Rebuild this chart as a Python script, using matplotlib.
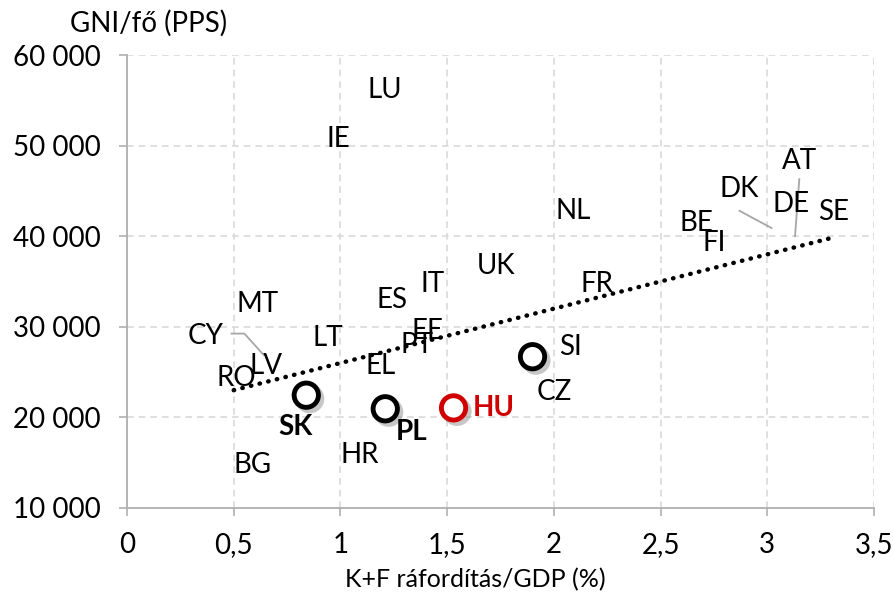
import matplotlib
matplotlib.use("Agg")
import matplotlib.pyplot as plt
from matplotlib.ticker import FuncFormatter
import matplotlib.patheffects as pe

plt.rcParams['font.family'] = ['Lato', 'DejaVu Sans']

# Countries shown only as labels (label position in data units)
lbl_names = ["LU", "IE", "NL", "DK", "AT", "DE", "SE", "BE", "FI", "UK", "IT", "FR",
             "ES", "MT", "CY", "LT", "EE", "PT", "LV", "RO", "EL", "SI", "CZ", "HR", "BG"]
lbl_x = [1.21, 0.99, 2.09, 2.87, 3.15, 3.11, 3.31, 2.67, 2.75, 1.73, 1.43, 2.20,
         1.24, 0.61, 0.37, 0.94, 1.41, 1.36, 0.65, 0.51, 1.19, 2.08, 2.00, 1.09, 0.59]
lbl_y = [56100, 50700, 42800, 45200, 48300, 43600, 42700, 41500, 39300, 36700, 34700, 34700,
         33000, 32500, 29000, 28800, 29500, 28000, 25700, 24300, 25700, 27800, 22800, 15900, 14800]

# Highlighted countries (circle markers)
hl_names = ["SK", "PL", "HU", ""]
hl_x = [0.84, 1.21, 1.53, 1.90]
hl_y = [22450, 20950, 21050, 26700]
hl_colors = ["black", "black", "#d00000", "black"]

# Highlighted labels (positions)
hl_lbl_x = [0.787, 1.335, 1.719]
hl_lbl_y = [18940, 18390, 21040]

# Linear trend line endpoints
trend_x = [0.5, 3.3]
trend_y = [23000, 39800]

xticks = [0, 0.5, 1, 1.5, 2, 2.5, 3, 3.5]
yticks = [10000, 20000, 30000, 40000, 50000, 60000]

fig = plt.figure(figsize=(8.94, 5.95), dpi=100)
ax = fig.add_axes([127/894, 1 - 508/595, (874-127)/894, (508-55)/595])
ax.set_xlim(0, 3.5)
ax.set_ylim(10000, 60000)
ax.set_xticks(xticks)
ax.set_yticks(yticks)
ax.xaxis.set_major_formatter(FuncFormatter(lambda v, p: ("%g" % v).replace(".", ",")))
ax.yaxis.set_major_formatter(FuncFormatter(lambda v, p: "{:,.0f}".format(v).replace(",", " ")))
ax.grid(True, color="#d9d9d9", linestyle=(0, (4, 3)), linewidth=1.2)
ax.set_axisbelow(True)
for s in ["top", "right"]:
    ax.spines[s].set_visible(False)
for s in ["left", "bottom"]:
    ax.spines[s].set_color("#b0b0b0")
    ax.spines[s].set_linewidth(1.3)
ax.tick_params(axis="both", colors="#b0b0b0", length=6, width=1.2, labelsize=20, labelcolor="black")
ax.tick_params(axis="y", pad=13)
ax.tick_params(axis="x", pad=11)

# trend line
ax.plot(trend_x, trend_y, color="black", linestyle=(0, (0.1, 1.9)), linewidth=3.2,
        dash_capstyle="round", zorder=3)

# leader lines
ax.plot([0.49, 0.55, 0.64], [29250, 29250, 26900], color="#a6a6a6", lw=1.3, zorder=2)
ax.plot([3.15, 3.13], [46300, 40000], color="#a6a6a6", lw=1.3, zorder=2)
ax.plot([2.87, 3.02], [42800, 40900], color="#a6a6a6", lw=1.3, zorder=2)
ax.plot([1.53, 1.59], [21150, 21150], color="#a6a6a6", lw=1.3, zorder=2)

# labels
for n, x, y in zip(lbl_names, lbl_x, lbl_y):
    ax.text(x, y, n, fontsize=20, ha="center", va="center", zorder=4)

# circles with a soft shadow
shadow = [pe.SimpleLineShadow(offset=(2.5, -2.5), shadow_color="#909090", alpha=0.5), pe.Normal()]
for x, y, c in zip(hl_x, hl_y, hl_colors):
    ax.plot([x], [y], marker="o", markersize=17.5, markerfacecolor="white",
            markeredgecolor=c, markeredgewidth=3.5, linestyle="none", zorder=5,
            path_effects=shadow)

for n, x, y, c in zip(hl_names[:3], hl_lbl_x, hl_lbl_y, hl_colors[:3]):
    ax.text(x, y, n, fontsize=20, fontweight="bold", color=c, ha="center", va="center", zorder=6)

fig.text(149/894, 1 - 23/595, "GNI/fő (PPS)", fontsize=20, ha="center", va="center")
fig.text(475/894, 1 - 580/595, "K+F ráfordítás/GDP (%)", fontsize=18, ha="center", va="center")

fig.savefig("out.png", dpi=100)
